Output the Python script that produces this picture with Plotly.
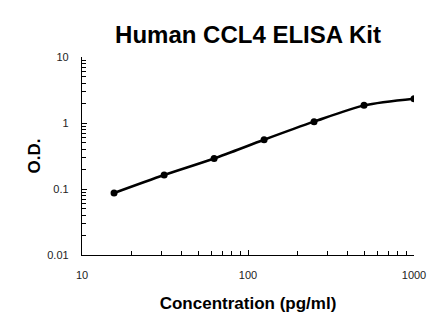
import plotly.graph_objects as go

concentration = [15.6, 31.25, 62.5, 125, 250, 500, 1000]
od = [0.087, 0.163, 0.290, 0.558, 1.047, 1.85, 2.34]

x_ticks = [10, 100, 1000]
x_tick_text = ["10", "100", "1000"]
y_ticks = [0.01, 0.1, 1, 10]
y_tick_text = ["0.01", "0.1", "1", "10"]

x_minor = [m * d for d in (10, 100) for m in range(2, 10)]
y_minor = [m * d for d in (0.01, 0.1, 1) for m in range(2, 10)]

fig = go.Figure()
fig.add_trace(go.Scatter(
    x=concentration, y=od, mode="lines+markers",
    line=dict(color="black", width=2.5, shape="spline", smoothing=0.8),
    marker=dict(color="black", size=7),
    showlegend=False,
))

fig.update_layout(
    width=446, height=326,
    margin=dict(l=82, r=32, t=57, b=71),
    paper_bgcolor="white", plot_bgcolor="white",
    font=dict(family="Liberation Sans, Arial, sans-serif", color="#222"),
    title=dict(text="<b>Human CCL4 ELISA Kit</b>", x=(82 + 414) / 2 / 446, xanchor="center",
               y=1 - 35 / 326, yanchor="middle", font=dict(size=24, color="black")),
)

fig.update_xaxes(
    type="log", range=[1, 3],
    tickvals=x_ticks, ticktext=x_tick_text,
    showline=True, linecolor="black", linewidth=1.3, mirror=False,
    ticks="inside", ticklen=5, tickcolor="black",
    minor=dict(tickvals=x_minor, ticks="inside", ticklen=4, tickcolor="black", showgrid=False),
    showgrid=False, zeroline=False,
    tickfont=dict(size=11, color="#222"), ticklabelstandoff=10,
    title=dict(text="<b>Concentration (pg/ml)</b>", font=dict(size=17, color="black"), standoff=16),
)
fig.update_yaxes(
    type="log", range=[-2, 1],
    tickvals=y_ticks, ticktext=y_tick_text,
    showline=True, linecolor="black", linewidth=1.3, mirror=False,
    ticks="inside", ticklen=5, tickcolor="black",
    minor=dict(tickvals=y_minor, ticks="inside", ticklen=4, tickcolor="black", showgrid=False),
    showgrid=False, zeroline=False,
    tickfont=dict(size=11, color="#222"), ticklabelstandoff=10,
    title=dict(text="<b>O.D.</b>", font=dict(size=17, color="black"), standoff=2),
)

fig.write_html("out.html")
